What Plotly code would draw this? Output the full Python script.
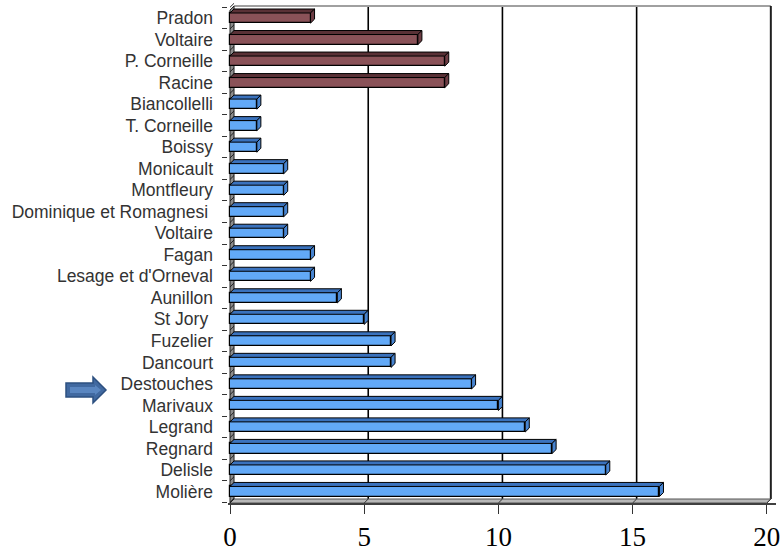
import plotly.graph_objects as go

# Authors listed top to bottom, number of plays, and genre group
authors = ["Pradon", "Voltaire", "P. Corneille", "Racine", "Biancollelli",
           "T. Corneille", "Boissy", "Monicault", "Montfleury",
           "Dominique et Romagnesi\u00a0", "Voltaire", "Fagan",
           "Lesage et d'Orneval", "Aunillon", "St Jory\u00a0", "Fuzelier",
           "Dancourt", "Destouches", "Marivaux", "Legrand", "Regnard",
           "Delisle", "Molière"]
counts = [3, 7, 8, 8, 1, 1, 1, 2, 2, 2, 2, 3, 3, 4, 5, 6, 6, 9, 10, 11, 12, 14, 16]
genre = ["tragédie"] * 4 + ["comédie"] * 19
x_ticks = [0, 5, 10, 15, 20]

n = len(authors)
ypos = [n - 1 - k for k in range(n)]

# geometry of the pseudo-3D box (data units)
XMAX = 20
DX = 0.15          # depth shift along x
DY = 0.186         # depth shift along y
BAR_H = 0.47
Y0 = -0.534        # front floor edge
YTOP = n - 1 + 0.56  # top of the back wall

front_col = {"tragédie": "#8a5258", "comédie": "#62a9f7"}
top_col = {"tragédie": "#5a3136", "comédie": "#3a72bd"}
side_col = {"tragédie": "#6d3d44", "comédie": "#4784d0"}

fig = go.Figure()

# front faces of the bars
fig.add_trace(go.Bar(
    x=counts, y=ypos, orientation="h", width=BAR_H, base=0,
    marker=dict(color=[front_col[g] for g in genre],
                line=dict(color="black", width=1.2)),
    hoverinfo="skip", showlegend=False,
))

# top and side faces of the bars
for g in ["tragédie", "comédie"]:
    tx, ty, sx, sy = [], [], [], []
    for v, y, gg in zip(counts, ypos, genre):
        if gg != g:
            continue
        yt = y + BAR_H / 2
        yb = y - BAR_H / 2
        tx += [0, v, v + DX, DX, 0, None]
        ty += [yt, yt, yt + DY, yt + DY, yt, None]
        sx += [v, v + DX, v + DX, v, v, None]
        sy += [yb, yb + DY, yt + DY, yt, yb, None]
    fig.add_trace(go.Scatter(x=tx, y=ty, fill="toself", fillcolor=top_col[g],
                             mode="lines", line=dict(color="black", width=1),
                             hoverinfo="skip", showlegend=False))
    fig.add_trace(go.Scatter(x=sx, y=sy, fill="toself", fillcolor=side_col[g],
                             mode="lines", line=dict(color="black", width=1),
                             hoverinfo="skip", showlegend=False))

shapes = []
# back wall
shapes.append(dict(type="rect", xref="x", yref="y", layer="below",
                   x0=DX, x1=XMAX + DX, y0=Y0 + DY, y1=YTOP,
                   fillcolor="white", line=dict(width=0)))
# back-wall gridlines
for t in x_ticks[1:-1]:
    shapes.append(dict(type="line", xref="x", yref="y", layer="below",
                       x0=t + DX, x1=t + DX, y0=Y0 + DY, y1=YTOP,
                       line=dict(color="black", width=1.6)))
shapes.append(dict(type="line", xref="x", yref="y", layer="below",
                   x0=DX, x1=XMAX + DX, y0=YTOP, y1=YTOP,
                   line=dict(color="#a0a0a0", width=2)))
shapes.append(dict(type="line", xref="x", yref="y", layer="below",
                   x0=XMAX + DX, x1=XMAX + DX, y0=Y0 + DY, y1=YTOP,
                   line=dict(color="#202020", width=2)))
# floor
shapes.append(dict(type="path", xref="x", yref="y", layer="below",
                   path=f"M 0,{Y0} L {XMAX},{Y0} L {XMAX + DX},{Y0 + DY} "
                        f"L {DX},{Y0 + DY} Z",
                   fillcolor="#b8b8b8", line=dict(color="#555555", width=1)))
for t in x_ticks:
    shapes.append(dict(type="line", xref="x", yref="y", layer="below",
                       x0=t, x1=t + DX, y0=Y0, y1=Y0 + DY,
                       line=dict(color="#333333", width=1)))
# left wall
shapes.append(dict(type="path", xref="x", yref="y", layer="below",
                   path=f"M 0,{Y0} L 0,{YTOP - DY} L {DX},{YTOP} "
                        f"L {DX},{Y0 + DY} Z",
                   fillcolor="#8c8c8c", line=dict(color="#222222", width=1)))
for k in range(n + 1):
    b = k - 0.5
    shapes.append(dict(type="line", xref="x", yref="y", layer="below",
                       x0=0, x1=DX, y0=b, y1=b + DY,
                       line=dict(color="#222222", width=1)))

# arrow pointing at Destouches
W, H = 782, 553
ML, MR, MT, MB = 228, 6, 2, 50
pw, ph = W - ML - MR, H - MT - MB


def px(xp):
    return (xp - ML) / pw


def py(yp):
    return (H - MB - yp) / ph


arrow_pts = [(66, 383), (93, 383), (93, 377), (106, 390), (93, 403), (93, 397), (66, 397)]
arrow_path = "M " + " L ".join(f"{px(a):.5f},{py(b):.5f}" for a, b in arrow_pts) + " Z"
shapes.append(dict(type="path", xref="paper", yref="paper", path=arrow_path,
                   fillcolor="#4169a0", line=dict(color="#2d5080", width=1.5)))
inner_pts = [(70, 387), (95, 387), (95, 385), (101, 390), (95, 395), (95, 393), (70, 393)]
inner_path = "M " + " L ".join(f"{px(a):.5f},{py(b):.5f}" for a, b in inner_pts) + " Z"
shapes.append(dict(type="path", xref="paper", yref="paper", path=inner_path,
                   fillcolor="#5a86c0", line=dict(width=0)))

x_lo = -2 / 26.84
x_hi = x_lo + pw / 26.84
y_hi = Y0 + ph / 21.52

fig.update_layout(
    width=W, height=H,
    margin=dict(l=ML, r=MR, t=MT, b=MB, pad=0),
    paper_bgcolor="white", plot_bgcolor="white",
    bargap=0, showlegend=False,
    shapes=shapes,
    xaxis=dict(range=[x_lo, x_hi], tickvals=x_ticks, ticktext=[str(t) for t in x_ticks],
               ticks="outside", ticklen=9, tickcolor="#333333", tickwidth=1,
               showgrid=False, zeroline=False,
               showline=True, linecolor="#404040", linewidth=1.5,
               tickfont=dict(family="Liberation Serif", size=27, color="black"),
               fixedrange=True),
    yaxis=dict(range=[Y0, y_hi], tickvals=ypos, ticktext=authors,
               ticks="", ticklen=0, showgrid=False, zeroline=False, showline=False,
               ticklabelstandoff=14,
               tickfont=dict(family="Liberation Sans", size=17.5, color="#333333"),
               minor=dict(tickvals=[k - 0.5 for k in range(n + 1)], ticks="outside",
                          ticklen=5, tickcolor="#333333", tickwidth=1,
                          showgrid=False),
               fixedrange=True),
)

fig.write_html("out.html")
